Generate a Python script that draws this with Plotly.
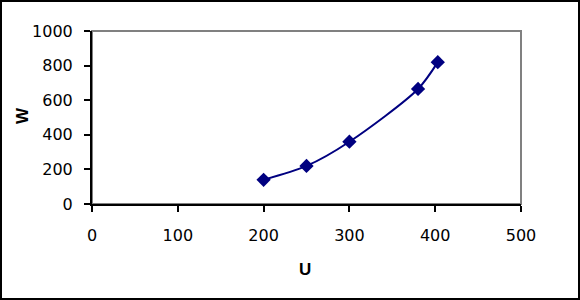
import plotly.graph_objects as go

u_values = [200, 250, 300, 380, 403]
w_values = [140, 220, 360, 665, 820]
x_ticks = [0, 100, 200, 300, 400, 500]
y_ticks = [0, 200, 400, 600, 800, 1000]
x_title = "U"
y_title = "W"

W, H = 580, 300
L, R, T, B = 92, 59, 31, 96
pw, ph = W - L - R, H - T - B

def px2paper_x(px):
    return (px - L) / pw

def px2paper_y(py):
    return (H - B - py) / ph

fig = go.Figure()
fig.add_trace(go.Scatter(
    x=u_values, y=w_values, mode="lines+markers",
    line=dict(color="#000080", width=2, shape="spline", smoothing=0.8),
    marker=dict(symbol="diamond", size=11, color="#000080"),
    showlegend=False, cliponaxis=False,
))

tick_font = dict(family="DejaVu Sans, Verdana, sans-serif", size=16, color="black")
title_font = dict(family="Liberation Sans, Arial, sans-serif", size=17, color="black")

fig.update_layout(
    width=W, height=H,
    margin=dict(l=L, r=R, t=T, b=B, pad=0),
    paper_bgcolor="white", plot_bgcolor="white",
    xaxis=dict(range=[0, 500], tickvals=x_ticks, showgrid=False, zeroline=False,
               showline=True, linecolor="black", linewidth=2,
               ticks="outside", ticklen=6, tickwidth=2, tickcolor="black",
               tickfont=tick_font, ticklabelstandoff=10,
               fixedrange=True),
    yaxis=dict(range=[0, 1000], tickvals=y_ticks, showgrid=False, zeroline=False,
               showline=True, linecolor="black", linewidth=2,
               ticks="outside", ticklen=6, tickwidth=2, tickcolor="black",
               tickfont=tick_font, ticklabelstandoff=8,
               fixedrange=True),
    annotations=[
        dict(text="<b>%s</b>" % x_title, xref="paper", yref="paper",
             x=px2paper_x(305), y=px2paper_y(269), xanchor="center", yanchor="middle",
             showarrow=False, font=title_font),
        dict(text="<b>%s</b>" % y_title, xref="paper", yref="paper",
             x=px2paper_x(22), y=px2paper_y(116), xanchor="center", yanchor="middle",
             showarrow=False, font=title_font, textangle=-90),
    ],
    shapes=[
        dict(type="rect", xref="paper", yref="paper", x0=0, x1=1, y0=0, y1=1,
             line=dict(color="#808080", width=2), layer="below"),
        dict(type="rect", xref="paper", yref="paper",
             x0=px2paper_x(1), x1=px2paper_x(579), y0=px2paper_y(1), y1=px2paper_y(299),
             line=dict(color="black", width=2), layer="below"),
    ],
)

fig.write_html("out.html")
